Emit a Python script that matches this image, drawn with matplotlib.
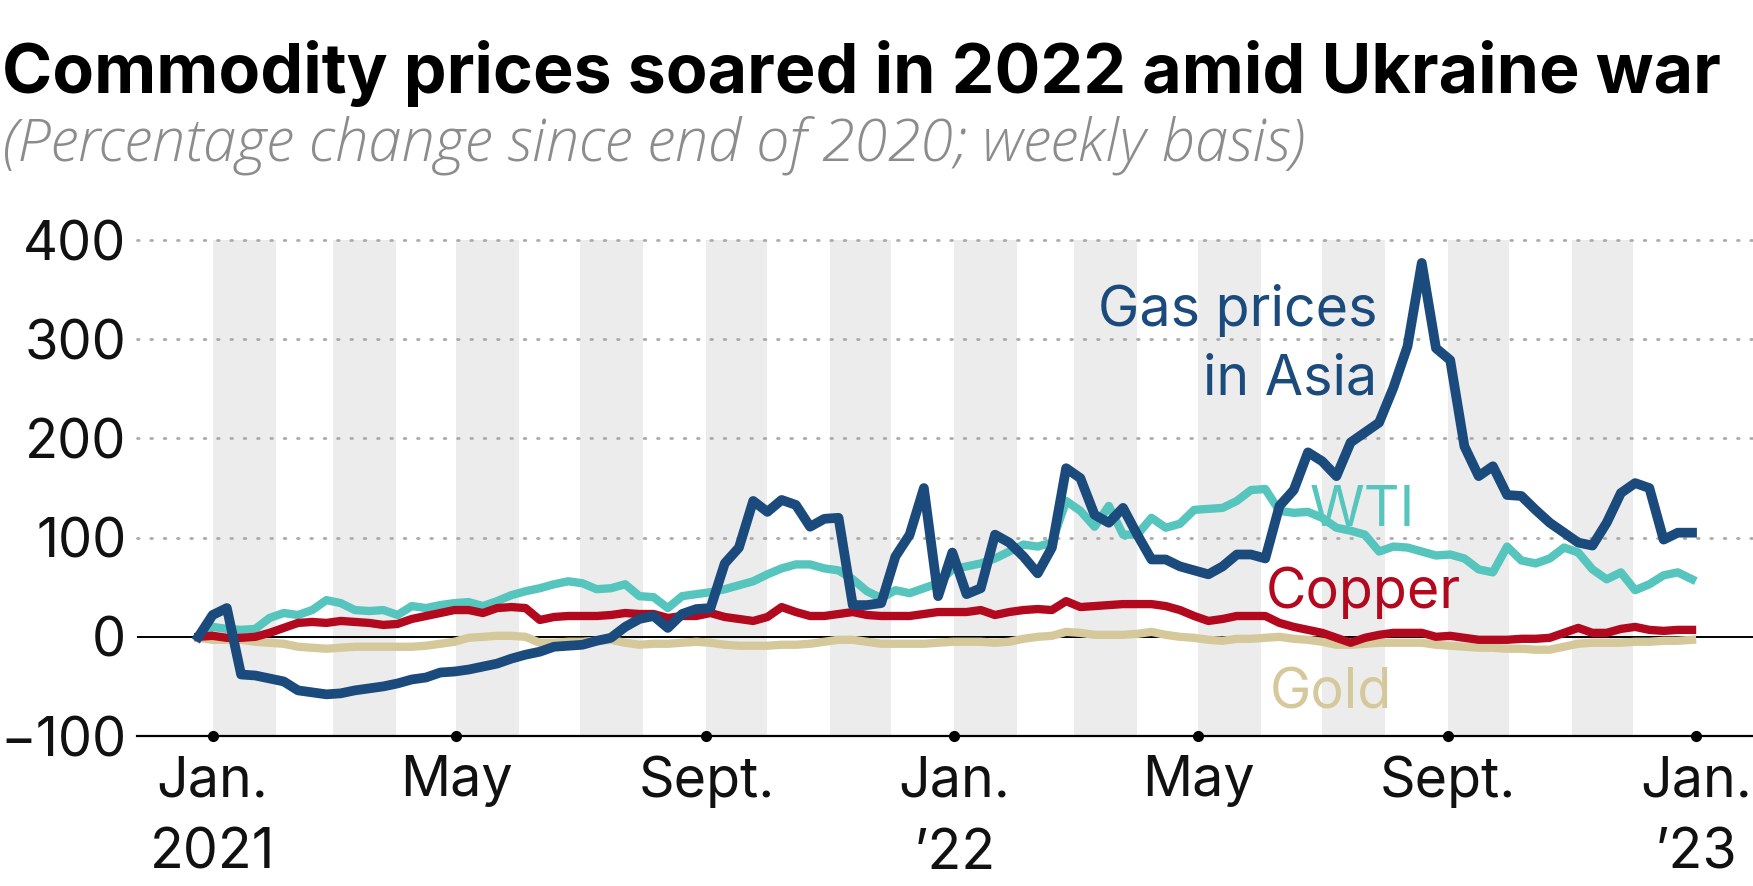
import matplotlib
matplotlib.use("Agg")
import matplotlib.pyplot as plt
import pandas as pd

# ---------------- data ----------------
dates = pd.date_range("2020-12-25", periods=106, freq="7D")

gas = [0, 22, 29, -38, -39, -42, -45, -54, -56, -58, -57, -54, -52, -50, -47, -43, -41, -36,
       -35, -33, -30, -27, -22, -18, -15, -10, -9, -8, -4, -1, 10, 18, 21, 9, 23, 28,
       29, 74, 90, 137, 126, 138, 133, 111, 119, 120, 32, 32, 34, 81, 103, 150,
       41, 85, 43, 49, 103, 95, 81, 64, 90, 170, 160, 123, 115, 130, 103, 78, 78, 71,
       67, 63, 71, 83, 83, 79, 132, 148, 186, 177, 162, 196, 206, 216, 251, 293, 377,
       291, 279, 192, 162, 172, 143, 142, 128, 115, 105, 95, 92, 115, 145, 155, 150,
       98, 105, 105]

wti = [0, 10, 8, 7, 8, 19, 24, 22, 27, 37, 34, 27, 26, 27, 22, 31, 29, 32,
       34, 35, 31, 36, 42, 46, 49, 53, 56, 54, 48, 49, 53, 41, 40, 29, 41, 43,
       45, 48, 52, 56, 63, 69, 73, 73, 69, 67, 58, 46, 39, 47, 44, 49,
       54, 68, 71, 74, 79, 86, 93, 91, 95, 137, 127, 111, 132, 103, 103, 120, 110, 114,
       128, 129, 130, 137, 148, 149, 127, 125, 126, 120, 110, 107, 103, 86, 91, 90, 86,
       82, 83, 79, 68, 65, 91, 77, 74, 79, 90, 85, 68, 58, 65, 47, 53,
       62, 65, 58]

copper = [0, 1, -1, -1, 0, 4, 9, 14, 15, 14, 16, 15, 14, 12, 13, 18, 21, 24,
          27, 27, 24, 29, 30, 29, 17, 20, 21, 21, 21, 22, 24, 23, 23, 19, 21, 21,
          24, 20, 18, 16, 20, 30, 25, 21, 21, 23, 25, 22, 21, 21, 21, 23,
          25, 25, 25, 27, 22, 25, 27, 28, 27, 36, 30, 31, 32, 33, 33, 33, 31, 27,
          21, 16, 18, 21, 21, 21, 14, 10, 7, 4, -1, -6, -1, 2, 4, 4, 4,
          0, 1, -1, -3, -3, -3, -2, -2, -1, 4, 9, 4, 4, 8, 10, 7,
          6, 7, 7]

gold = [-1, -3, -3, -3, -5, -6, -7, -10, -11, -12, -11, -10, -10, -10, -10, -10, -9, -7,
        -5, -1, 0, 1, 1, 0, -6, -6, -5, -5, -4, -3, -6, -8, -7, -7, -6, -5,
        -6, -8, -9, -9, -9, -8, -8, -7, -5, -3, -3, -5, -7, -7, -7, -7,
        -6, -5, -5, -5, -6, -5, -2, 0, 1, 5, 4, 2, 2, 2, 3, 5, 2, 0,
        -1, -3, -4, -2, -2, -1, 0, -2, -3, -5, -8, -8, -7, -6, -6, -6, -6,
        -8, -9, -10, -11, -11, -12, -12, -13, -13, -10, -7, -6, -6, -6, -5, -5,
        -4, -4, -3]

ytick_vals = [-100, 0, 100, 200, 300, 400]
ytick_labels = ["\u2212100", "0", "100", "200", "300", "400"]
xtick_dates = pd.to_datetime(["2021-01-01", "2021-05-01", "2021-09-01", "2022-01-01",
                              "2022-05-01", "2022-09-01", "2023-01-01"])
xtick_labels = ["Jan.\n2021", "May", "Sept.", "Jan.\n\u201922", "May", "Sept.", "Jan.\n\u201923"]
shaded_months = pd.to_datetime(["2021-01-01", "2021-03-01", "2021-05-01", "2021-07-01",
                                "2021-09-01", "2021-11-01", "2022-01-01", "2022-03-01",
                                "2022-05-01", "2022-07-01", "2022-09-01", "2022-11-01"])

# ---------------- style ----------------
C_GAS = "#1b4a7c"
C_WTI = "#55c5bd"
C_COP = "#b3091f"
C_GOLD = "#d5c99c"
FONT = "Inter"
XTICK_FS = 40
YTICK_FS = 39
LAB_FS = 40

fig = plt.figure(figsize=(17.53, 8.86), dpi=100)
ax = fig.add_axes([0.0784, 0.1693, 1 - 0.0784, 0.729 - 0.1693])

ax.set_xlim(pd.Timestamp("2020-11-25"), pd.Timestamp("2023-01-29"))
ax.set_ylim(-100, 400)

for m in shaded_months:
    ax.axvspan(m, m + pd.offsets.MonthBegin(1), ymin=0, ymax=1, color="#ececec",
               lw=0, zorder=0)

for v in ytick_vals:
    if v in (-100, 0):
        continue
    ax.axhline(v, color="#aaaaaa", lw=2.0, ls=(0, (0.6, 4.2)), dash_capstyle="round",
               zorder=1, clip_on=False)
ax.axhline(0, color="black", lw=1.4, zorder=2)

ax.plot(dates, gold, color=C_GOLD, lw=6.0, zorder=3)
ax.plot(dates, wti, color=C_WTI, lw=6.0, zorder=4)
ax.plot(dates, copper, color=C_COP, lw=6.0, zorder=5)
ax.plot(dates, gas, color=C_GAS, lw=7.0, zorder=6)

for s in ["top", "right", "left"]:
    ax.spines[s].set_visible(False)
ax.spines["bottom"].set_color("black")
ax.spines["bottom"].set_linewidth(1.6)
ax.spines["bottom"].set_zorder(7)

ax.set_yticks(ytick_vals)
ax.set_yticklabels(ytick_labels)
ax.set_xticks(xtick_dates)
ax.set_xticklabels(xtick_labels, linespacing=1.5)
ax.tick_params(axis="both", length=0)
ax.tick_params(axis="y", pad=8)
ax.tick_params(axis="x", pad=14)
for lab in ax.get_yticklabels():
    lab.set_fontfamily(FONT)
    lab.set_fontsize(YTICK_FS)
    lab.set_color("#111111")
for lab in ax.get_xticklabels():
    lab.set_fontfamily(FONT)
    lab.set_fontsize(XTICK_FS)
    lab.set_color("#111111")

ax.plot(xtick_dates, [-100] * len(xtick_dates), "o", color="black", ms=7,
        clip_on=False, zorder=8)

ax.text(pd.Timestamp("2022-07-28"), 244, "Gas prices\nin Asia", ha="right", va="baseline",
        color=C_GAS, fontsize=LAB_FS, fontfamily=FONT, multialignment="right",
        linespacing=1.4)
ax.text(pd.Timestamp("2022-06-25"), 112, "WTI", ha="left", va="baseline",
        color=C_WTI, fontsize=LAB_FS, fontfamily=FONT)
ax.text(pd.Timestamp("2022-06-03"), 29, "Copper", ha="left", va="baseline",
        color=C_COP, fontsize=LAB_FS, fontfamily=FONT)
ax.text(pd.Timestamp("2022-06-05"), -72, "Gold", ha="left", va="baseline",
        color=C_GOLD, fontsize=LAB_FS, fontfamily=FONT)

fig.text(0.001, 0.895, "Commodity prices soared in 2022 amid Ukraine war",
         ha="left", va="baseline", fontsize=49, fontweight="bold", fontfamily=FONT,
         color="black")
fig.text(0.001, 0.819, "(Percentage change since end of 2020; weekly basis)",
         ha="left", va="baseline", fontsize=43, fontstyle="italic", fontweight="light",
         fontfamily="Open Sans", color="#8c8c8c")

fig.savefig("out.png", dpi=100, facecolor="white")
